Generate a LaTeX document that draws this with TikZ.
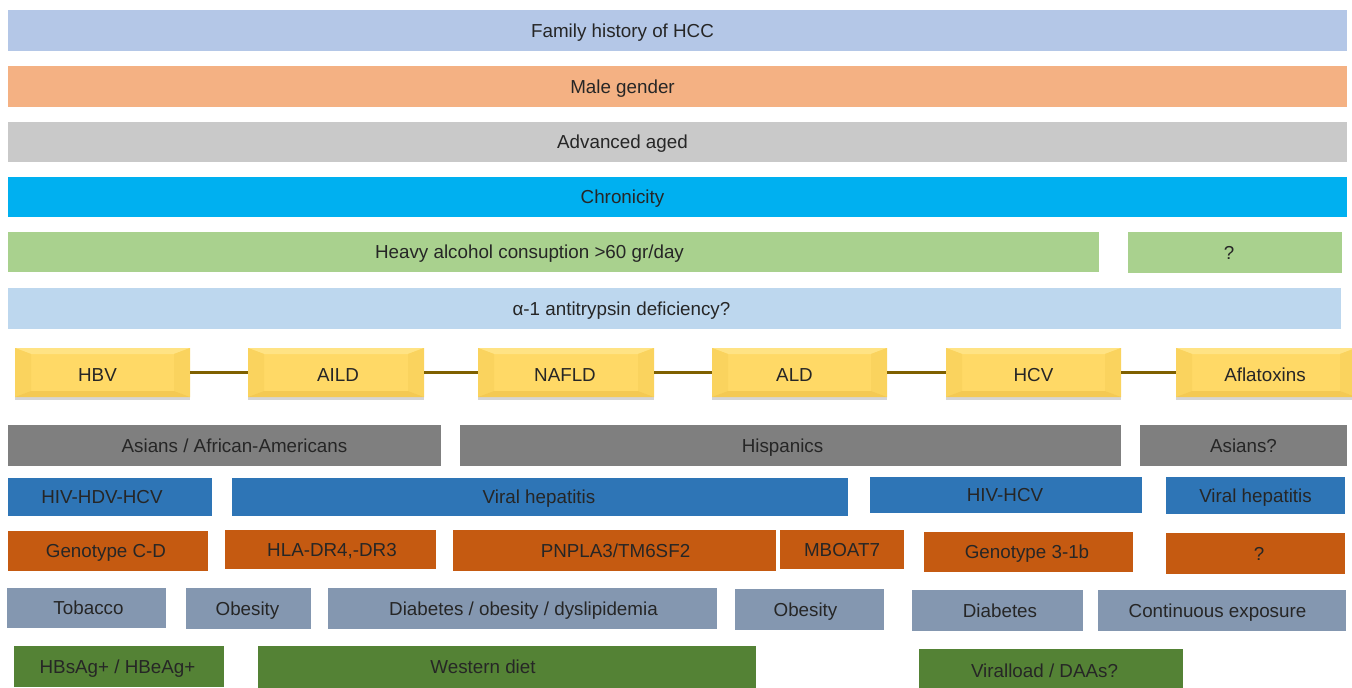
\documentclass[tikz,border=0pt]{standalone}
\usepackage{fontspec}
\setmainfont{Liberation Sans}
\usetikzlibrary{shadows}
\definecolor{cA}{HTML}{B4C7E7}
\definecolor{cB}{HTML}{F4B183}
\definecolor{cC}{HTML}{C9C9C9}
\definecolor{cD}{HTML}{00B0F0}
\definecolor{cE}{HTML}{A9D18E}
\definecolor{cF}{HTML}{BDD7EE}
\definecolor{cY}{HTML}{FFD966}
\definecolor{cYl}{HTML}{FFE384}
\definecolor{cYd}{HTML}{F4C953}
\definecolor{cYs}{HTML}{FAD35E}
\definecolor{cLine}{HTML}{7F6000}
\definecolor{cG}{HTML}{7F7F7F}
\definecolor{cBl}{HTML}{2E75B6}
\definecolor{cO}{HTML}{C55A11}
\definecolor{cS}{HTML}{8497B0}
\definecolor{cGr}{HTML}{548235}
\definecolor{txt}{HTML}{262626}
% name, x1, y1, x2, y2, style, text, doubled text offset
\newcommand\bx[8]{\node[#6, minimum width={(#4-#2)*1pt}, minimum height={(#5-#3)*1pt}] (#1) at ({(#2+#4)/2},{(#3+#5)/2}) {\hspace*{#8pt}#7};}
\tikzset{
  bar/.style={rectangle, inner sep=0pt, outer sep=0pt, text=txt, font=\fontsize{18.8}{22}\selectfont,
    text height=13.5pt, text depth=0pt, draw=none},
  bevel/.style={bar, text height=18.5pt, fill=cY, drop shadow={shadow xshift=0pt, shadow yshift=-2.5pt, opacity=0.3, fill=black!55},
    path picture={
      \fill[cYl] (path picture bounding box.north west) -- (path picture bounding box.north east)
        -- ([xshift=-16pt,yshift=-6pt]path picture bounding box.north east) -- ([xshift=16pt,yshift=-6pt]path picture bounding box.north west) -- cycle;
      \fill[cYs] (path picture bounding box.north west) -- ([xshift=16pt,yshift=-6pt]path picture bounding box.north west)
        -- ([xshift=16pt,yshift=6pt]path picture bounding box.south west) -- (path picture bounding box.south west) -- cycle;
      \fill[cYs] (path picture bounding box.north east) -- ([xshift=-16pt,yshift=-6pt]path picture bounding box.north east)
        -- ([xshift=-16pt,yshift=6pt]path picture bounding box.south east) -- (path picture bounding box.south east) -- cycle;
      \fill[cYd] (path picture bounding box.south west) -- (path picture bounding box.south east)
        -- ([xshift=-16pt,yshift=6pt]path picture bounding box.south east) -- ([xshift=16pt,yshift=6pt]path picture bounding box.south west) -- cycle;
    }},
  link/.style={draw=cLine, line width=3pt}
}
\begin{document}
\begin{tikzpicture}[x=1pt,y=-1pt]
\useasboundingbox (0,0) rectangle (1352,688);
% full-width rows
\bx{fam}{8}{10}{1347}{51}{bar,fill=cA}{Family history of HCC}{-110}
\bx{male}{8}{66}{1347}{107}{bar,fill=cB}{Male gender}{-110}
\bx{age}{8}{122}{1347}{162}{bar,fill=cC}{Advanced aged}{-110}
\bx{chr}{8}{177}{1347}{217}{bar,fill=cD}{Chronicity}{-110}
\bx{alc}{8}{232}{1099}{272}{bar,fill=cE}{Heavy alcohol consuption >60 gr/day}{-48}
\bx{alcq}{1128}{232}{1342}{273}{bar,fill=cE}{?}{-12}
\bx{aat}{8}{288}{1341}{329}{bar,fill=cF}{α-1 antitrypsin deficiency?}{-106}
% bevel boxes
\bx{hbv}{15}{348}{190}{397}{bevel}{HBV}{-10}
\bx{aild}{248}{348}{424}{397}{bevel}{AILD}{4}
\bx{nafld}{478}{348}{654}{397}{bevel}{NAFLD}{-2}
\bx{ald}{712}{348}{887}{397}{bevel}{ALD}{-10}
\bx{hcv}{946}{348}{1121}{397}{bevel}{HCV}{0}
\bx{afl}{1176}{348}{1356}{397}{bevel}{Aflatoxins}{-2}
\draw[link] (hbv.east) -- (aild.west);
\draw[link] (aild.east) -- (nafld.west);
\draw[link] (nafld.east) -- (ald.west);
\draw[link] (ald.east) -- (hcv.west);
\draw[link] (hcv.east) -- (afl.west);
% ethnicity
\bx{eth1}{8}{425}{441}{466}{bar,fill=cG}{Asians / African-Americans}{20}
\bx{eth2}{460}{425}{1121}{466}{bar,fill=cG}{Hispanics}{-16}
\bx{eth3}{1140}{425}{1347}{466}{bar,fill=cG}{Asians?}{0}
% coinfection
\bx{co1}{8}{478}{212}{516}{bar,fill=cBl}{HIV-HDV-HCV}{-16}
\bx{co2}{232}{478}{848}{516}{bar,fill=cBl}{Viral hepatitis}{-2}
\bx{co3}{870}{477}{1142}{513}{bar,fill=cBl}{HIV-HCV}{-2}
\bx{co4}{1166}{477}{1345}{514}{bar,fill=cBl}{Viral hepatitis}{0}
% genetics
\bx{ge1}{8}{531}{208}{571}{bar,fill=cO}{Genotype C-D}{-4}
\bx{ge2}{225}{530}{436}{569}{bar,fill=cO}{HLA-DR4,-DR3}{3}
\bx{ge3}{453}{530}{776}{571}{bar,fill=cO}{PNPLA3/TM6SF2}{2}
\bx{ge4}{780}{530}{904}{569}{bar,fill=cO}{MBOAT7}{0}
\bx{ge5}{924}{532}{1133}{572}{bar,fill=cO}{Genotype 3-1b}{-3}
\bx{ge6}{1166}{533}{1345}{574}{bar,fill=cO}{?}{7}
% cofactors
\bx{cf1}{7}{588}{166}{628}{bar,fill=cS}{Tobacco}{4}
\bx{cf2}{186}{588}{311}{629}{bar,fill=cS}{Obesity}{-2}
\bx{cf3}{328}{588}{717}{629}{bar,fill=cS}{Diabetes / obesity / dyslipidemia}{2}
\bx{cf4}{735}{589}{884}{630}{bar,fill=cS}{Obesity}{-8}
\bx{cf5}{912}{590}{1083}{631}{bar,fill=cS}{Diabetes}{5}
\bx{cf6}{1098}{590}{1346}{631}{bar,fill=cS}{Continuous exposure}{-9}
% other
\bx{ot1}{14}{646}{224}{687}{bar,fill=cGr}{HBsAg+ / HBeAg+}{-3}
\bx{ot2}{258}{646}{756}{688}{bar,fill=cGr}{Western diet}{-48}
\bx{ot3}{919}{649}{1183}{692}{bar,fill=cGr}{Viralload / DAAs?}{-13}
\end{tikzpicture}
\end{document}
